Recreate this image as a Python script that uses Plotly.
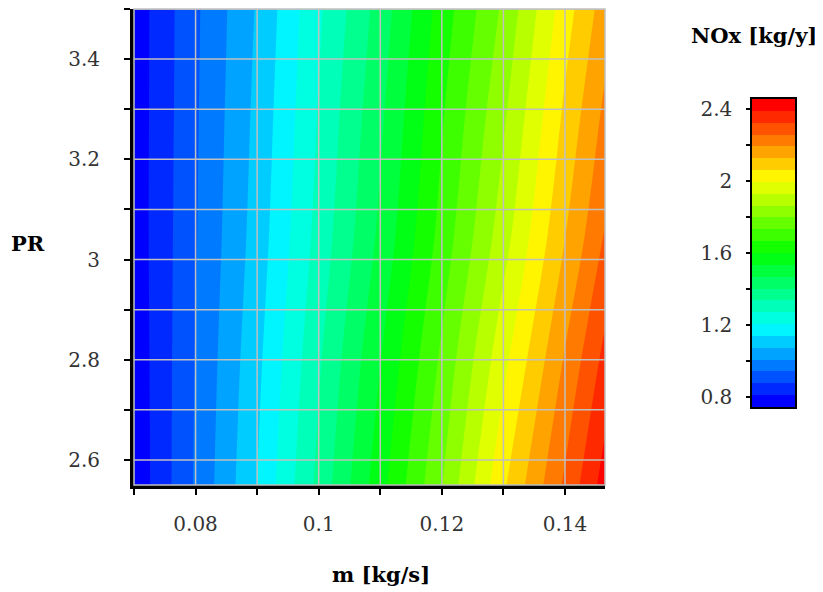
import plotly.graph_objects as go

# ---------------- data ----------------
m_vals = [0.07, 0.08, 0.09, 0.10, 0.11, 0.12, 0.13, 0.14, 0.1465]   # m [kg/s]
pr_vals = [2.55, 2.8, 3.05, 3.3, 3.5]                                # PR
nox_pr_255 = [0.76, 0.95, 1.14, 1.355, 1.575, 1.795, 2.05, 2.27, 2.42]
nox_pr_280 = [0.765, 0.944, 1.122, 1.327, 1.532, 1.745, 1.975, 2.2, 2.345]
nox_pr_305 = [0.77, 0.937, 1.102, 1.294, 1.483, 1.69, 1.9, 2.124, 2.262]
nox_pr_330 = [0.77, 0.933, 1.09, 1.275, 1.454, 1.657, 1.85, 2.072, 2.206]
nox_pr_350 = [0.77, 0.93, 1.08, 1.26, 1.43, 1.63, 1.81, 2.03, 2.16]

x_tickvals = [0.08, 0.10, 0.12, 0.14]
x_ticktext = ["0.08", "0.1", "0.12", "0.14"]
x_grid = [0.08, 0.09, 0.10, 0.11, 0.12, 0.13, 0.14]
y_tickvals = [2.6, 2.8, 3.0, 3.2, 3.4]
y_ticktext = ["2.6", "2.8", "3", "3.2", "3.4"]
y_grid = [2.6, 2.7, 2.8, 2.9, 3.0, 3.1, 3.2, 3.3, 3.4, 3.5]
cb_tickvals = [0.8, 1.2, 1.6, 2.0, 2.4]
cb_ticktext = ["0.8", "1.2", "1.6", "2", "2.4"]
cb_min, cb_max, n_bands = 0.744, 2.456, 26

x_range = [0.07, 0.1465]
y_range = [2.55, 3.5]

# ---------------- derived ----------------
z = [nox_pr_255, nox_pr_280, nox_pr_305, nox_pr_330, nox_pr_350]
d = (cb_max - cb_min) / n_bands
edges = [cb_min + d * k for k in range(n_bands + 1)]
mids = [(edges[k] + edges[k + 1]) / 2 for k in range(n_bands)]

cscale = [[0.0, "rgb(0,0,255)"], [0.25, "rgb(0,255,255)"],
          [0.5, "rgb(0,255,0)"], [0.75, "rgb(255,255,0)"], [1.0, "rgb(255,0,0)"]]

FONT = "DejaVu Serif"
OFF = 8                      # page body margin of the browser
W, H = 823 - OFF, 592 - OFF  # figure size
# main plot area in screen pixels
SX0, SX1, SY0, SY1 = 134, 605, 9, 485
PAPER_RIGHT = 805            # screen x where paper area ends (beyond colour bar)
L, T = SX0 - OFF, SY0 - OFF
R, B = W - (PAPER_RIGHT - OFF), H - (SY1 - OFF)
pw, ph = W - L - R, H - T - B


def px_x(p):
    return (p - OFF - L) / pw


def px_y(p):
    return (H - B - (p - OFF)) / ph


fig = go.Figure()
fig.add_trace(go.Contour(
    x=m_vals, y=pr_vals, z=z,
    colorscale=cscale, autocontour=False,
    contours=dict(start=edges[1], end=edges[-2], size=d,
                  coloring="fill", showlines=False),
    line=dict(width=0), showscale=False, hoverinfo="skip",
))

# colour bar drawn as a heatmap of band mid-values
fig.add_trace(go.Heatmap(
    x=[0, 1], y=edges, z=[[v] for v in mids],
    colorscale=cscale, zmin=mids[0], zmax=mids[-1],
    showscale=False, xaxis="x2", yaxis="y2", hoverinfo="skip",
))

tickfont = dict(family=FONT, size=20, color="#333")
titlefont = dict(family=FONT, size=21, color="black")
grid_col = "rgb(192,192,192)"

shapes = []
for xv in x_grid:
    shapes.append(dict(type="line", xref="x", yref="y domain", x0=xv, x1=xv, y0=0, y1=1,
                       line=dict(color=grid_col, width=1.5), layer="above"))
for yv in y_grid:
    shapes.append(dict(type="line", xref="x domain", yref="y", x0=0, x1=1, y0=yv, y1=yv,
                       line=dict(color=grid_col, width=1.5), layer="above"))
shapes.append(dict(type="rect", xref="x domain", yref="y domain", x0=0, x1=1, y0=0, y1=1,
                   line=dict(color=grid_col, width=1.5), layer="above"))

fig.update_layout(
    width=W, height=H,
    margin=dict(l=L, r=R, t=T, b=B, autoexpand=False),
    paper_bgcolor="white", plot_bgcolor="white",
    showlegend=False,
    xaxis=dict(domain=[0, px_x(SX1)], range=x_range, automargin=False,
               tickmode="array", tickvals=x_tickvals, ticktext=x_ticktext,
               ticks="outside", ticklen=6, tickwidth=2, tickcolor="black",
               minor=dict(dtick=0.01, tick0=0.08, ticks="outside", ticklen=6,
                          tickwidth=2, tickcolor="black", showgrid=False),
               showgrid=False, zeroline=False,
               showline=True, linecolor="black", linewidth=4,
               tickfont=tickfont, ticklabelstandoff=12),
    yaxis=dict(domain=[0, 1], range=y_range, automargin=False,
               tickmode="array", tickvals=y_tickvals, ticktext=y_ticktext,
               ticks="outside", ticklen=6, tickwidth=2, tickcolor="black",
               minor=dict(dtick=0.1, tick0=2.5, ticks="outside", ticklen=6,
                          tickwidth=2, tickcolor="black", showgrid=False),
               showgrid=False, zeroline=False,
               showline=True, linecolor="black", linewidth=4,
               tickfont=tickfont, ticklabelstandoff=20),
    xaxis2=dict(domain=[px_x(752), px_x(795)], range=[0, 1], anchor="y2", automargin=False,
                showticklabels=False, ticks="", showgrid=False, zeroline=False,
                showline=True, mirror=True, linecolor="black", linewidth=1.5),
    yaxis2=dict(domain=[px_y(407), px_y(99)], range=[cb_min, cb_max], anchor="x2",
                automargin=False, side="left",
                tickmode="array", tickvals=cb_tickvals, ticktext=cb_ticktext,
                ticks="outside", ticklen=4, tickwidth=1.5, tickcolor="black",
                minor=dict(dtick=0.2, tick0=0.8, ticks="outside", ticklen=4,
                           tickwidth=1.5, tickcolor="black", showgrid=False),
                showgrid=False, zeroline=False,
                showline=True, mirror=True, linecolor="black", linewidth=1.5,
                tickfont=tickfont, ticklabelstandoff=10),
    shapes=shapes,
    annotations=[
        dict(text="<b>PR</b>", xref="paper", yref="paper", x=px_x(28), y=px_y(243),
             showarrow=False, xanchor="center", yanchor="middle", font=titlefont),
        dict(text="<b>m [kg/s]</b>", xref="paper", yref="paper", x=px_x(381), y=px_y(574),
             showarrow=False, xanchor="center", yanchor="middle", font=titlefont),
        dict(text="<b>NOx [kg/y]</b>", xref="paper", yref="paper", x=px_x(754), y=px_y(35),
             showarrow=False, xanchor="center", yanchor="middle", font=titlefont),
    ],
)

fig.write_html("out.html")
